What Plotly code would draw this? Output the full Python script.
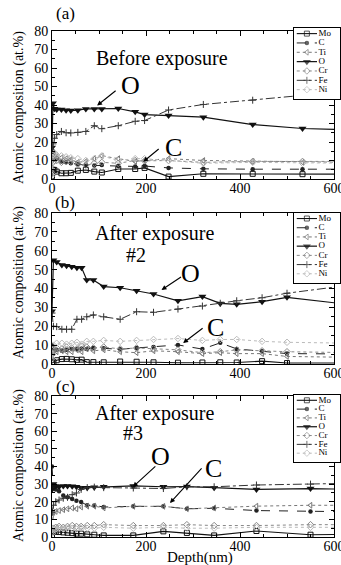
import plotly.graph_objects as go

# ---------------- data ----------------
elements = ["Mo", "C", "Ti", "O", "Cr", "Fe", "Ni"]

# Panel (a) Before exposure
depth_a = [0, 2, 5, 10, 20, 30, 40, 55, 72, 90, 106, 141, 177, 197, 248, 322, 427, 533, 640]
Mo_a = [1.5, 5, 4.9, 4, 3.1, 3.1, 3.3, 4.5, 4.9, 4, 3.5, 5.4, 5.4, 6, 1.3, 2.8, 2.8, 2.6, 2.6]
C_a = [10, 15, 13, 11, 9.5, 9, 8.5, 8, 7.5, 7.3, 7.5, 7, 6.8, 7, 6, 5.5, 5.3, 5.3, 5.3]
Ti_a = [5, 12, 13, 12, 11.5, 11, 10.5, 9, 9.5, 11, 12.5, 11, 9.5, 10, 11, 10, 9.5, 9, 9]
O_a = [17, 41, 38, 37.5, 37.5, 37.2, 37, 37.2, 37.9, 37.9, 37.9, 38.1, 36.3, 34.8, 34.3, 33.4, 29.4, 27.3, 26.5]
Cr_a = [3, 9, 10, 10, 9, 9.5, 9.5, 8, 7.5, 8.5, 9, 8.5, 10, 9.8, 10, 9, 9.5, 9.5, 9.5]
Fe_a = [15, 19, 22, 24, 25.7, 25, 24.9, 25.2, 25.7, 28.8, 27.2, 28.8, 31.2, 31.6, 37.3, 40.3, 42.6, 45.2, 46.8]
Ni_a = [2, 13, 14, 13, 12.5, 12, 11.5, 11, 10, 11, 12.5, 10, 11, 11, 10, 8.5, 9, 8.5, 8.5]

# Panel (b) After exposure #2
depth_b = [0, 3, 10, 21, 31, 42, 53, 63, 74, 88, 110, 145, 180, 216, 268, 320, 358, 393, 447, 500, 640]
Mo_b = [0.5, 1, 2, 2.6, 2.7, 2.5, 2.2, 2.3, 1, 1, 0.9, 1.3, 1.2, 0.9, 0.7, 0.8, 0.9, 0.8, 1.5, 0.5, 0.5]
C_b = [10, 8, 7.5, 7, 7.5, 8, 8, 8.2, 8, 8.5, 8.3, 7.8, 8.5, 9, 10.1, 7.9, 11.2, 8, 6.8, 5.5, 5.3]
Ti_b = [4, 6, 6.5, 7, 6.5, 6.5, 7.5, 6.5, 8, 7, 7.5, 6.5, 6, 7, 6.5, 5.5, 6, 5.5, 5.5, 4, 3.5]
O_b = [28, 55, 54, 52.5, 52, 51.5, 51, 51, 44.5, 44.5, 41, 40.4, 38.8, 37.1, 33.5, 35.7, 32.1, 31.6, 33, 35.3, 31.3]
Cr_b = [5, 8, 8.5, 8, 9, 8.5, 8, 9.5, 9, 8.5, 9, 8, 8.5, 8, 7.5, 6, 6.5, 7.5, 7, 6.5, 6]
Fe_b = [27, 20, 19.8, 18.4, 18.4, 18.4, 23.7, 23.7, 25, 26, 25, 23.7, 27.7, 27.4, 29.1, 30.7, 32.2, 33.5, 35.1, 37.5, 42]
Ni_b = [3, 10, 11, 11, 10.5, 11, 11.5, 10.5, 12, 12, 12.5, 12, 12.5, 13, 13.5, 12.5, 13, 13, 12, 11.5, 11]

# Panel (c) After exposure #3
depth_c = [0, 3, 8, 15, 24, 33, 43, 52, 62, 75, 90, 110, 173, 237, 287, 345, 435, 550, 640]
Mo_c = [1, 3.2, 3, 2.8, 2.6, 2.4, 2.2, 1.9, 1.9, 1.5, 1.3, 0.9, 0.9, 3.2, 2.3, 0.9, 3.4, 1.3, 1.5]
C_c = [40, 28, 27, 26, 23.5, 22.5, 21.5, 20.5, 19.8, 18, 17.9, 17, 17.4, 17.4, 16, 16.3, 15, 14.5, 14.3]
Ti_c = [12, 14, 14.5, 15, 15.5, 16, 16.5, 16, 17, 17.5, 17.5, 16.5, 17.4, 17.4, 16, 16.5, 17.5, 18, 18]
O_c = [27, 30, 29, 28.5, 29, 29, 28.8, 28.5, 28, 28, 28.2, 28.5, 29, 28.5, 28.6, 28, 27, 27.5, 27]
Cr_c = [3, 5, 5.5, 6, 5.5, 6, 6.5, 6, 6, 6.5, 6.5, 7, 6.5, 6.5, 7, 6.5, 6.5, 7, 7]
Fe_c = [14, 18, 20, 21, 22, 22.5, 24, 25, 27, 28, 28.3, 28, 27.8, 27.5, 28.5, 28.5, 29.5, 30, 30.5]
Ni_c = [2, 4, 4.5, 5, 4.5, 5, 5, 4.5, 5, 5, 5, 5.5, 5, 5.5, 5, 5, 5.5, 5.5, 5.5]

x_ticks = [0, 200, 400, 600]
y_ticks = [0, 10, 20, 30, 40, 50, 60, 70, 80]

panels = [
    (depth_a, dict(Mo=Mo_a, C=C_a, Ti=Ti_a, O=O_a, Cr=Cr_a, Fe=Fe_a, Ni=Ni_a)),
    (depth_b, dict(Mo=Mo_b, C=C_b, Ti=Ti_b, O=O_b, Cr=Cr_b, Fe=Fe_b, Ni=Ni_b)),
    (depth_c, dict(Mo=Mo_c, C=C_c, Ti=Ti_c, O=O_c, Cr=Cr_c, Fe=Fe_c, Ni=Ni_c)),
]

# ---------------- styles ----------------
styles = {
    "Mo": dict(line=dict(color="#111", width=1.1, dash="solid"),
               marker=dict(symbol="square-open", size=5, color="#111", line=dict(width=1))),
    "C": dict(line=dict(color="#222", width=1, dash="dash"),
              marker=dict(symbol="circle", size=4.5, color="#222")),
    "Ti": dict(line=dict(color="#777", width=1, dash="dot"),
               marker=dict(symbol="triangle-left-open", size=5, color="#777", line=dict(width=1))),
    "O": dict(line=dict(color="#111", width=1.2, dash="solid"),
              marker=dict(symbol="triangle-down", size=7, color="#111")),
    "Cr": dict(line=dict(color="#888", width=1, dash="dot"),
               marker=dict(symbol="diamond-open", size=5, color="#888", line=dict(width=1))),
    "Fe": dict(line=dict(color="#333", width=1, dash="dashdot"),
               marker=dict(symbol="cross-thin-open", size=5, color="#333", line=dict(width=1))),
    "Ni": dict(line=dict(color="#bbb", width=1, dash="dot"),
               marker=dict(symbol="diamond-open", size=5, color="#bbb", line=dict(width=1))),
}

W, H = 341, 565
ML, MR = 52, 1
PW = W - ML - MR
PLOT_R = 334


def px_x(p):
    return (p - ML) / PW


def px_y(p):
    return 1 - p / H


# panel pixel extents (top, bottom) and legend box (top, bottom)
panel_px = [(31, 179), (213, 364), (396, 537)]
legend_px = [(28, 99), (213, 283), (395, 462)]
LEG_L = 294

fig = go.Figure()
FONT = "Liberation Serif, Times New Roman, DejaVu Serif, serif"

for i, (depth, series) in enumerate(panels):
    n = "" if i == 0 else str(i + 1)
    for el in elements:
        st = styles[el]
        fig.add_trace(go.Scatter(
            x=depth, y=series[el], mode="lines+markers", name=el,
            line=st["line"], marker=st["marker"], showlegend=False,
            xaxis="x" + n, yaxis="y" + n, hoverinfo="skip"))
    top, bot = panel_px[i]
    axcommon = dict(showline=True, linecolor="black", linewidth=1, mirror="ticks",
                    ticks="inside", ticklen=5, tickcolor="black", showgrid=False,
                    zeroline=False, automargin=False, ticklabeloverflow="allow",
                    tickfont=dict(family=FONT, size=14, color="black"))
    fig.layout["xaxis" + n] = dict(
        axcommon, domain=[0, px_x(PLOT_R)], range=[0, 600], tickvals=x_ticks,
        anchor="y" + n, ticklabelstandoff=-4,
        minor=dict(ticks="inside", ticklen=3, dtick=50, tickcolor="black"))
    fig.layout["yaxis" + n] = dict(
        axcommon, domain=[px_y(bot), px_y(top)], range=[0, 80], tickvals=y_ticks,
        anchor="x" + n, minor=dict(ticks="inside", ticklen=3, dtick=5, tickcolor="black"))

    # custom legend subplot
    ln = str(i + 4)
    ltop, lbot = legend_px[i]
    fig.layout["xaxis" + ln] = dict(domain=[px_x(LEG_L), 1], range=[0, 10], anchor="y" + ln,
                                    showline=True, mirror=True, linecolor="black", linewidth=1,
                                    showticklabels=False, ticks="", showgrid=False,
                                    zeroline=False, fixedrange=True)
    fig.layout["yaxis" + ln] = dict(domain=[px_y(lbot), px_y(ltop)], range=[7.0, -0.6],
                                    anchor="x" + ln, showline=True, mirror=True,
                                    linecolor="black", linewidth=1, showticklabels=False,
                                    ticks="", showgrid=False, zeroline=False, fixedrange=True)
    fig.add_shape(type="rect", xref="x" + ln, yref="y" + ln, x0=0, x1=10, y0=-0.6, y1=7.0,
                  fillcolor="white", line=dict(width=0), layer="below")
    for k, el in enumerate(elements):
        st = styles[el]
        mk = dict(st["marker"])
        mk = dict(symbol=mk["symbol"], color=mk["color"],
                  size=[0, mk["size"], 0], line=mk.get("line", dict(width=0)))
        fig.add_trace(go.Scatter(
            x=[0.6, 2.8, 5.0], y=[k, k, k], mode="lines+markers",
            line=st["line"], marker=mk, showlegend=False,
            xaxis="x" + ln, yaxis="y" + ln, hoverinfo="skip", cliponaxis=False))
        fig.add_trace(go.Scatter(
            x=[5.3], y=[k], mode="text", text=[el], textposition="middle right",
            textfont=dict(family=FONT, size=9, color="black"), showlegend=False,
            xaxis="x" + ln, yaxis="y" + ln, hoverinfo="skip", cliponaxis=False))

# ---------------- annotations ----------------
ann = []


def txt(s, x, y, size, **kw):
    ann.append(dict(text=s, x=px_x(x), y=px_y(y), xref="paper", yref="paper",
                    showarrow=False, xanchor="center", yanchor="middle",
                    font=dict(family=FONT, size=size, color="black"), **kw))


txt("(a)", 65, 14, 17)
txt("(b)", 65, 202, 17)
txt("(c)", 65, 386, 17)
txt("Before exposure", 162, 58, 20)
txt("After exposure", 155, 233, 20)
txt("#2", 136, 255, 20)
txt("After exposure", 155, 413, 20)
txt("#3", 133, 433, 20)
txt("O", 130, 86, 26)
txt("C", 173, 147, 26)
txt("O", 190, 273, 26)
txt("C", 215, 327, 26)
txt("O", 160, 457, 26)
txt("C", 213, 468, 26)
for yc in (108, 283, 466):
    txt("Atomic composition (at.%)", 19, yc, 14, textangle=-90)
txt("Depth(nm)", 200, 557, 15)

arrows = [
    ("x", "y", 96, 39.7, 20, -16),
    ("x", "y", 194, 9.3, 17, -14),
    ("x2", "y2", 233, 39.2, 21, -14),
    ("x2", "y2", 279, 11.1, 21, -16),
    ("x3", "y3", 172, 28.4, 24, -22),
    ("x3", "y3", 251, 19.3, 33, -36),
]
for xr, yr, xv, yv, ax, ay in arrows:
    ann.append(dict(text="", x=xv, y=yv, xref=xr, yref=yr, ax=ax, ay=ay,
                    showarrow=True, arrowhead=2, arrowsize=0.9, arrowwidth=1.1,
                    arrowcolor="black"))

fig.update_layout(
    width=W, height=H, margin=dict(l=ML, r=MR, t=0, b=0),
    paper_bgcolor="white", plot_bgcolor="white", template="none",
    showlegend=False, annotations=ann,
)

fig.write_html("out.html", config={"displayModeBar": False},
               post_script="document.body.style.margin='0';document.body.style.padding='0';"
                           "document.body.style.overflow='hidden';")
